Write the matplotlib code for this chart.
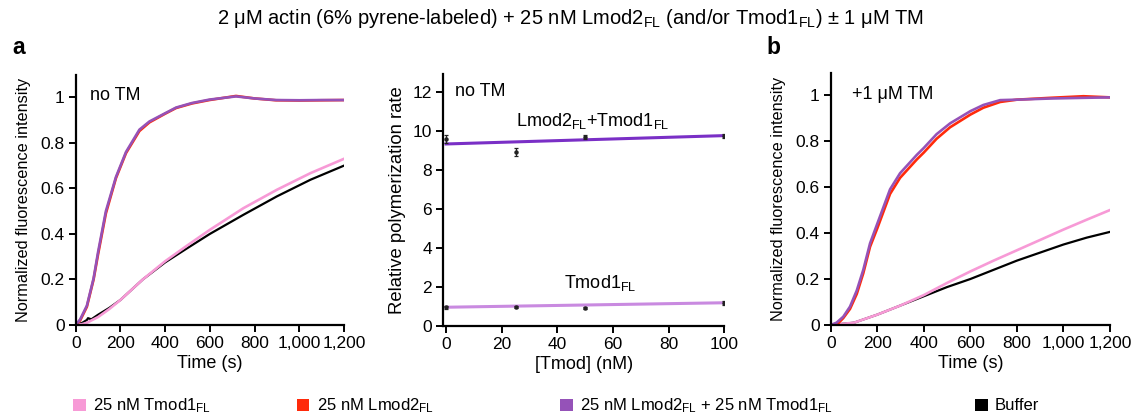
import matplotlib
matplotlib.use("Agg")
import matplotlib.pyplot as plt
from matplotlib.patches import Patch
import numpy as np

plt.rcParams['font.family'] = ['Liberation Sans', 'DejaVu Sans']
plt.rcParams['mathtext.fontset'] = 'custom'
plt.rcParams['mathtext.rm'] = 'Liberation Sans'
plt.rcParams['mathtext.it'] = 'Liberation Sans'
plt.rcParams['mathtext.bf'] = 'Liberation Sans:bold'

# ---------------- data ----------------
# panel a (no TM) time courses
t_a_fast = [0, 20, 50, 80, 100, 135, 180, 225, 285, 330, 400, 449, 520, 598, 717, 800, 896, 1000, 1100, 1200]
lmod2_a = [0, 0.02, 0.08, 0.2, 0.31, 0.49, 0.645, 0.755, 0.852, 0.89, 0.928, 0.953, 0.973, 0.988, 1.006, 0.995, 0.987, 0.986, 0.987, 0.988]
lmod2tmod1_a = [0, 0.025, 0.085, 0.205, 0.32, 0.5, 0.65, 0.76, 0.858, 0.894, 0.93, 0.955, 0.975, 0.99, 1.004, 0.995, 0.988, 0.987, 0.988, 0.988]
t_a_slow = [0, 30, 50, 55, 70, 100, 150, 200, 300, 400, 500, 600, 750, 900, 1050, 1200]
tmod1_a = [0, 0.004, 0.01, 0.012, 0.02, 0.035, 0.07, 0.11, 0.2, 0.28, 0.35, 0.418, 0.513, 0.594, 0.667, 0.73]
buffer_a = [0, 0.01, 0.022, 0.03, 0.025, 0.045, 0.075, 0.11, 0.2, 0.275, 0.338, 0.40, 0.484, 0.565, 0.638, 0.70]

# middle panel: relative polymerization rate vs [Tmod]
tmod_conc = [0, 25, 50, 100]
rate_lmod_tmod = [9.6, 8.95, 9.69, 9.76]
err_lmod_tmod = [0.22, 0.2, 0.1, 0.08]
rate_tmod = [0.94, 0.96, 0.93, 1.18]
err_tmod = [0.08, 0.07, 0.05, 0.1]
fit_x = [0, 100]
fit_lmod_tmod = [9.35, 9.78]
fit_tmod = [0.95, 1.18]

# panel b (+1 uM TM) time courses
t_b_fast = [0, 25, 54, 83, 112, 140, 169, 200, 255, 298, 370, 400, 455, 513, 600, 656, 728, 800, 943, 1086, 1200]
lmod2tmod1_b = [0, 0.01, 0.036, 0.08, 0.15, 0.24, 0.355, 0.44, 0.59, 0.66, 0.74, 0.77, 0.83, 0.877, 0.93, 0.957, 0.978, 0.98, 0.985, 0.988, 0.99]
lmod2_b = [0, 0.0, 0.03, 0.07, 0.135, 0.225, 0.34, 0.42, 0.57, 0.64, 0.72, 0.75, 0.81, 0.86, 0.915, 0.945, 0.97, 0.98, 0.988, 0.995, 0.99]
t_b_slow = [0, 100, 200, 300, 400, 500, 600, 700, 800, 900, 1000, 1100, 1200]
tmod1_b = [0, 0.01, 0.045, 0.085, 0.13, 0.183, 0.233, 0.28, 0.325, 0.37, 0.415, 0.458, 0.50]
buffer_b = [0, 0.01, 0.045, 0.085, 0.125, 0.165, 0.20, 0.24, 0.28, 0.315, 0.35, 0.38, 0.405]

time_ticks = [0, 200, 400, 600, 800, 1000, 1200]
time_ticklabels = ['0', '200', '400', '600', '800', '1,000', '1,200']
fl_ticks = [0, 0.2, 0.4, 0.6, 0.8, 1]
fl_ticklabels = ['0', '0.2', '0.4', '0.6', '0.8', '1']
rate_ticks = [0, 2, 4, 6, 8, 10, 12]
conc_ticks = [0, 20, 40, 60, 80, 100]

legend_labels = [r'25 nM Tmod1$_\mathregular{FL}$', r'25 nM Lmod2$_\mathregular{FL}$',
                 r'25 nM Lmod2$_\mathregular{FL}$ + 25 nM Tmod1$_\mathregular{FL}$', 'Buffer']

# ---------------- style ----------------
c_pink = '#f79ad6'
c_red = '#ff2a0a'
c_purple = '#9552b8'
c_black = '#000000'
c_fit_top = '#7a2fc6'
c_fit_bot = '#c98ae0'
FS_TICK = 12.5
FS_XLAB = 13
FS_FLUO = 11.7
FS_RATE = 13.3
FS_TXT = 13
FS_TITLE = 14.5
FS_LEG = 12

W, H = 1141, 418
fig = plt.figure(figsize=(W / 100, H / 100), dpi=100)


def style_axes(ax):
    for s in ['top', 'right']:
        ax.spines[s].set_visible(False)
    for s in ['left', 'bottom']:
        ax.spines[s].set_linewidth(1.6)
    ax.tick_params(direction='out', length=5, width=1.4, labelsize=FS_TICK, pad=3)


axA = fig.add_axes([75.7 / W, 1 - 325 / H, 268.3 / W, 250 / H])
axM = fig.add_axes([443.3 / W, 1 - 325.7 / H, 281 / W, 251.7 / H])
axB = fig.add_axes([830.7 / W, 1 - 325 / H, 279.3 / W, 252 / H])

lw = 1.6
# panel a
axA.plot(t_a_slow, buffer_a, color=c_black, lw=lw)
axA.plot(t_a_slow, tmod1_a, color=c_pink, lw=lw + 0.3)
axA.plot(t_a_fast, lmod2_a, color=c_red, lw=lw + 0.3)
axA.plot(t_a_fast, lmod2tmod1_a, color=c_purple, lw=lw + 0.3)
axA.set_xlim(0, 1200)
axA.set_ylim(0, 1.098)
axA.set_xticks(time_ticks, time_ticklabels)
axA.set_yticks(fl_ticks, fl_ticklabels)
axA.set_xlabel('Time (s)', fontsize=FS_XLAB, labelpad=3)
axA.set_ylabel('Normalized fluorescence intensity', fontsize=FS_FLUO, labelpad=7)
axA.text(0.055, 0.95, 'no TM', transform=axA.transAxes, fontsize=FS_TXT, va='top')
style_axes(axA)

# middle
axM.plot(fit_x, fit_lmod_tmod, color=c_fit_top, lw=2.2)
axM.plot(fit_x, fit_tmod, color=c_fit_bot, lw=2.2)
axM.errorbar(tmod_conc, rate_lmod_tmod, yerr=err_lmod_tmod, fmt='o', ms=2.2, color='#222222',
             elinewidth=0.9, capsize=1.6, capthick=0.9)
axM.errorbar(tmod_conc, rate_tmod, yerr=err_tmod, fmt='o', ms=2.2, color='#222222',
             elinewidth=0.9, capsize=1.6, capthick=0.9)
axM.set_xlim(-1, 100)
axM.set_ylim(0, 12.95)
axM.set_xticks(conc_ticks)
axM.set_yticks(rate_ticks)
axM.set_xlabel('[Tmod] (nM)', fontsize=FS_XLAB, labelpad=3)
axM.set_ylabel('Relative polymerization rate', fontsize=FS_RATE, labelpad=5)
axM.text(0.04, 0.965, 'no TM', transform=axM.transAxes, fontsize=FS_TXT, va='top')
axM.text(0.53, 0.815, r'Lmod2$_\mathregular{FL}$+Tmod1$_\mathregular{FL}$', transform=axM.transAxes,
         fontsize=FS_TXT, ha='center', va='center')
axM.text(0.558, 0.17, r'Tmod1$_\mathregular{FL}$', transform=axM.transAxes,
         fontsize=FS_TXT, ha='center', va='center')
style_axes(axM)

# panel b
axB.plot(t_b_slow, buffer_b, color=c_black, lw=lw)
axB.plot(t_b_slow, tmod1_b, color=c_pink, lw=lw + 0.3)
axB.plot(t_b_fast, lmod2_b, color=c_red, lw=lw + 0.3)
axB.plot(t_b_fast, lmod2tmod1_b, color=c_purple, lw=lw + 0.3)
axB.set_xlim(0, 1200)
axB.set_ylim(0, 1.096)
axB.set_xticks(time_ticks, time_ticklabels)
axB.set_yticks(fl_ticks, fl_ticklabels)
axB.set_xlabel('Time (s)', fontsize=FS_XLAB, labelpad=3)
axB.set_ylabel('Normalized fluorescence intensity', fontsize=FS_FLUO, labelpad=7)
axB.text(0.075, 0.95, '+1 μM TM', transform=axB.transAxes, fontsize=FS_TXT, va='top')
style_axes(axB)

# titles / panel letters
fig.text(0.5, 1 - 18 / H, r'2 μM actin (6% pyrene-labeled) + 25 nM Lmod2$_\mathregular{FL}$ (and/or Tmod1$_\mathregular{FL}$) ± 1 μM TM',
         ha='center', va='center', fontsize=FS_TITLE)
fig.text(12 / W, 1 - 47 / H, 'a', fontsize=16.5, fontweight='bold', va='center')
fig.text(766 / W, 1 - 47 / H, 'b', fontsize=16.5, fontweight='bold', va='center')

# legend entries
leg_colors = [c_pink, c_red, c_purple, c_black]
leg_x = [73, 297, 560, 975]
for lab, col, x in zip(legend_labels, leg_colors, leg_x):
    lg = fig.legend(handles=[Patch(facecolor=col, edgecolor='none', label=lab)],
                    loc='center left', bbox_to_anchor=(x / W, 1 - 406 / H), frameon=False,
                    fontsize=FS_LEG, handlelength=0.75, handleheight=0.75, handletextpad=0.45,
                    borderaxespad=0, borderpad=0)

fig.savefig('out.png', dpi=100)
